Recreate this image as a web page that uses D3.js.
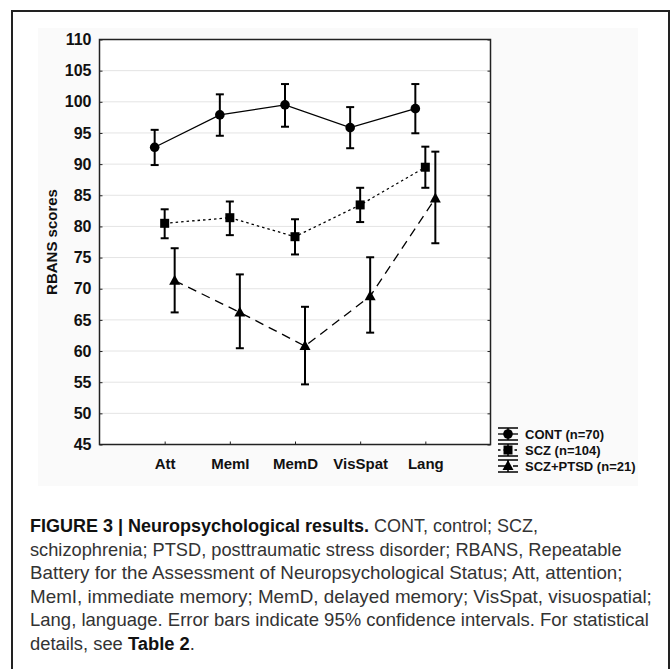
<!DOCTYPE html>
<html>
<head>
<meta charset="utf-8">
<script src="https://cdn.jsdelivr.net/npm/d3@7"></script>
<style>
  body { margin: 0; background: #fff; }
  svg { display: block; font-family: "Liberation Sans", Arial, sans-serif; }
  .tick-label { font-size: 15px; font-weight: bold; fill: #111; }
  .y-label { font-size: 16px; }
  .legend-label { font-size: 13px; font-weight: bold; fill: #111; }
  .caption { font-family: "Liberation Sans Narrow", "Liberation Sans", Arial, sans-serif; font-size: 19px; fill: #333; }
  .caption .b { font-weight: bold; fill: #111; }
</style>
</head>
<body>
<div class="chart"></div>
<script>
const categories = ["Att", "MemI", "MemD", "VisSpat", "Lang"];
const yTicks = [45, 50, 55, 60, 65, 70, 75, 80, 85, 90, 95, 100, 105, 110];

const seriesNames = ["CONT (n=70)", "SCZ (n=104)", "SCZ+PTSD (n=21)"];
const contMean = [92.7, 97.9, 99.5, 95.85, 98.9];
const contLow  = [89.85, 94.55, 96.0, 92.55, 94.95];
const contHigh = [95.5, 101.2, 102.85, 99.15, 102.85];
const sczMean  = [80.5, 81.4, 78.35, 83.45, 89.5];
const sczLow   = [78.1, 78.6, 75.5, 80.7, 86.2];
const sczHigh  = [82.75, 84.0, 81.15, 86.2, 92.8];
const ptsdMean = [71.3, 66.2, 60.8, 68.8, 84.5];
const ptsdLow  = [66.2, 60.45, 54.65, 62.95, 77.3];
const ptsdHigh = [76.5, 72.3, 67.1, 75.05, 92.0];

const captionLines = [
  [["FIGURE 3 | Neuropsychological results.", true], [" CONT, control; SCZ,", false]],
  [["schizophrenia; PTSD, posttraumatic stress disorder; RBANS, Repeatable", false]],
  [["Battery for the Assessment of Neuropsychological Status; Att, attention;", false]],
  [["MemI, immediate memory; MemD, delayed memory; VisSpat, visuospatial;", false]],
  [["Lang, language. Error bars indicate 95% confidence intervals. For statistical", false]],
  [["details, see ", false], ["Table 2", true], [".", false]]
];
const captionWidths = [508, 592, 593, 622, 619, 165];

const series = [
  {name: seriesNames[0], mean: contMean, low: contLow, high: contHigh, shape: "circle", dash: null, dx: -10},
  {name: seriesNames[1], mean: sczMean, low: sczLow, high: sczHigh, shape: "square", dash: "2.5,3", dx: 0},
  {name: seriesNames[2], mean: ptsdMean, low: ptsdLow, high: ptsdHigh, shape: "triangle", dash: "9,6", dx: 10}
];

const width = 671, height = 669;
const plot = {left: 99.5, right: 490.5, top: 39.5, bottom: 444.5};

const svg = d3.select(".chart").append("svg")
  .attr("width", width)
  .attr("height", height);

// outer frame of the figure panel
svg.append("rect")
  .attr("x", 12).attr("y", 11)
  .attr("width", 657).attr("height", 700)
  .attr("fill", "none")
  .attr("stroke", "#222")
  .attr("stroke-width", 2);

// faint picture background
svg.append("rect")
  .attr("x", 38).attr("y", 28)
  .attr("width", 600).attr("height", 458)
  .attr("fill", "#fafafa");

const x = d3.scalePoint()
  .domain(categories)
  .range([plot.left, plot.right])
  .padding(1);

const y = d3.scaleLinear()
  .domain([45, 110])
  .range([plot.bottom, plot.top]);

svg.append("rect")
  .attr("x", plot.left).attr("y", plot.top)
  .attr("width", plot.right - plot.left)
  .attr("height", plot.bottom - plot.top)
  .attr("fill", "#fff");

// gridlines
svg.append("g")
  .selectAll("line")
  .data(yTicks.slice(1, -1))
  .join("line")
  .attr("x1", plot.left).attr("x2", plot.right)
  .attr("y1", d => y(d)).attr("y2", d => y(d))
  .attr("stroke", "#e4e4e4")
  .attr("stroke-width", 1);

// left axis
const yAxis = svg.append("g")
  .attr("transform", `translate(${plot.left},0)`)
  .call(d3.axisLeft(y).tickValues(yTicks).tickSizeInner(-3).tickSizeOuter(0).tickPadding(8));
yAxis.select(".domain").remove();
yAxis.selectAll("line").attr("stroke", "#222");
yAxis.selectAll("text").attr("class", "tick-label y-label");

// right axis ticks
const yAxisR = svg.append("g")
  .attr("transform", `translate(${plot.right},0)`)
  .call(d3.axisRight(y).tickValues(yTicks).tickSizeInner(-3).tickSizeOuter(0).tickFormat(""));
yAxisR.select(".domain").remove();
yAxisR.selectAll("line").attr("stroke", "#222");

// bottom axis
const xAxis = svg.append("g")
  .attr("transform", `translate(0,${plot.bottom})`)
  .call(d3.axisBottom(x).tickSizeInner(-3).tickSizeOuter(0).tickPadding(14));
xAxis.select(".domain").remove();
xAxis.selectAll("line").attr("stroke", "#222");
xAxis.selectAll("text").attr("class", "tick-label");

// frame
svg.append("rect")
  .attr("x", plot.left).attr("y", plot.top)
  .attr("width", plot.right - plot.left)
  .attr("height", plot.bottom - plot.top)
  .attr("fill", "none")
  .attr("stroke", "#222")
  .attr("stroke-width", 1.5);

svg.append("text")
  .attr("class", "tick-label")
  .attr("transform", `translate(51,${(plot.top + plot.bottom) / 2}) rotate(-90)`)
  .attr("text-anchor", "middle")
  .attr("dominant-baseline", "central")
  .text("RBANS scores");

function marker(g, shape) {
  if (shape === "circle") {
    g.append("circle").attr("r", 4.8).attr("fill", "#000");
  } else if (shape === "square") {
    g.append("rect").attr("x", -4.5).attr("y", -4.5).attr("width", 9).attr("height", 9).attr("fill", "#000");
  } else {
    g.append("path").attr("d", "M0,-6 L5.5,4 L-5.5,4 Z").attr("fill", "#000");
  }
}

series.forEach(function(s){
  const pts = categories.map((c, i) => ({c: c, m: s.mean[i], lo: s.low[i], hi: s.high[i]}));
  const px = d => x(d.c) + s.dx;

  const line = d3.line().x(px).y(d => y(d.m));
  svg.append("path")
    .attr("d", line(pts))
    .attr("fill", "none")
    .attr("stroke", "#000")
    .attr("stroke-width", 1.3)
    .attr("stroke-dasharray", s.dash);

  const eb = svg.append("g").selectAll("g").data(pts).join("g");
  eb.append("line")
    .attr("x1", px).attr("x2", px)
    .attr("y1", d => y(d.lo)).attr("y2", d => y(d.hi))
    .attr("stroke", "#000").attr("stroke-width", 2);
  eb.append("line")
    .attr("x1", d => px(d) - 4).attr("x2", d => px(d) + 4)
    .attr("y1", d => y(d.hi)).attr("y2", d => y(d.hi))
    .attr("stroke", "#000").attr("stroke-width", 2);
  eb.append("line")
    .attr("x1", d => px(d) - 4).attr("x2", d => px(d) + 4)
    .attr("y1", d => y(d.lo)).attr("y2", d => y(d.lo))
    .attr("stroke", "#000").attr("stroke-width", 2);

  pts.forEach(function(d){
    const g = svg.append("g").attr("transform", `translate(${px(d)},${y(d.m)})`);
    marker(g, s.shape);
  });
});

// legend
const legend = svg.append("g").attr("transform", "translate(508,434)");
series.forEach(function(s, i){
  const g = legend.append("g").attr("transform", `translate(0,${i * 16})`);
  g.append("line").attr("x1", -10).attr("x2", 10).attr("y1", 0).attr("y2", 0)
    .attr("stroke", "#000").attr("stroke-width", 1.3).attr("stroke-dasharray", s.dash);
  g.append("line").attr("x1", 0).attr("x2", 0).attr("y1", -6).attr("y2", 6)
    .attr("stroke", "#000").attr("stroke-width", 1.5);
  [-6, 6].forEach(function(c){
    g.append("line").attr("x1", -10).attr("x2", 10).attr("y1", c).attr("y2", c)
      .attr("stroke", "#000").attr("stroke-width", 1.5);
  });
  marker(g, s.shape);
  g.append("text")
    .attr("class", "legend-label")
    .attr("x", 17)
    .attr("dy", "0.35em")
    .text(s.name);
});

// caption: each line squeezed horizontally to the width it has in the figure
captionLines.forEach(function(parts, i){
  const t = svg.append("text")
    .attr("class", "caption");
  parts.forEach(function(p){
    t.append("tspan").attr("class", p[1] ? "b" : null).text(p[0]);
  });
  const len = t.node().getComputedTextLength();
  const k = captionWidths[i] / len;
  t.attr("transform", `translate(30,${532 + i * 23.5}) scale(${k},1)`);
});
</script>
</body>
</html>
